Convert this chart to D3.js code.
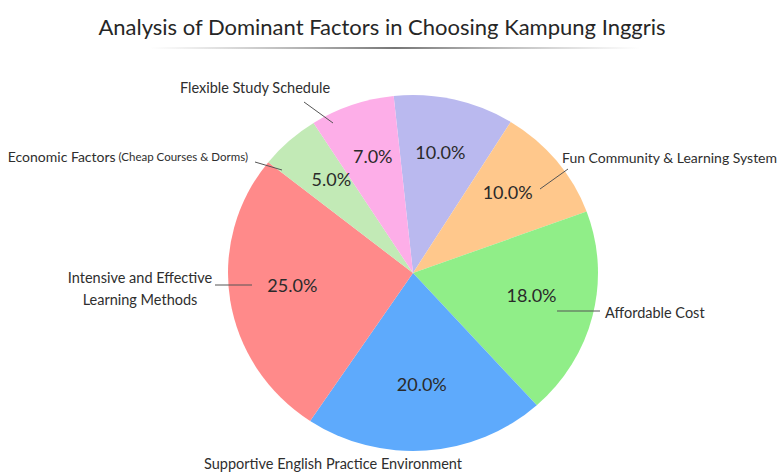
<!DOCTYPE html>
<html><head><meta charset="utf-8">
<script src="https://cdn.jsdelivr.net/npm/d3@7"></script>
<style>body{margin:0;background:#fff} svg{display:block}</style>
</head><body><svg id="chart" width="783" height="475"></svg>
<script>
// ---- data ----
const title = "Analysis of Dominant Factors in Choosing Kampung Inggris";
const categories = ["", "Fun Community & Learning System", "Affordable Cost",
  "Supportive English Practice Environment", "Intensive and Effective Learning Methods",
  "Economic Factors", "Flexible Study Schedule"];
const values = [10, 10, 18, 20, 25, 5, 7];
const colors = ["#bab9ef", "#ffc88c", "#90ee88", "#5eaafc", "#ff8a8a", "#c2eab6", "#fdaee8"];

// ---- layout (positions relative to pie centre, px) ----
const cx = 413, cy = 273, R = 185, yScale = 0.962;
const labelLayout = [
  null,
  {lines:["Fun Community & Learning System"], size:14, x:149, y:-114, anchor:"start", leader:[[155,-104],[127,-84]]},
  {lines:["Affordable Cost"], size:14.5, x:192, y:41, anchor:"start", leader:[[144,38],[187,38]]},
  {lines:["Supportive English Practice Environment"], size:14.5, x:-80, y:192, anchor:"middle", leader:null},
  {lines:["Intensive and Effective","Learning Methods"], size:14.5, x:-273, y:6, anchor:"middle", leader:[[-198,12],[-161,12]]},
  {lines:["Economic Factors"], size:14, sub:" (Cheap Courses & Dorms)", x:-165, y:-115, anchor:"end", leader:[[-158,-111],[-131,-103]]},
  {lines:["Flexible Study Schedule"], size:14.5, x:-158, y:-184, anchor:"middle", leader:[[-109,-171],[-80,-150]]}
];

const svg = d3.select("#chart");
const font = "Lato, 'Open Sans', sans-serif";

// title
const defs = svg.append("defs");
const grad = defs.append("linearGradient").attr("id","ul");
grad.append("stop").attr("offset","0%").attr("stop-color","#999").attr("stop-opacity",0);
grad.append("stop").attr("offset","50%").attr("stop-color","#777").attr("stop-opacity",1);
grad.append("stop").attr("offset","100%").attr("stop-color","#999").attr("stop-opacity",0);

svg.append("text").attr("x", 382).attr("y", 35).attr("text-anchor","middle")
  .style("font-family", font).style("font-size","22px").style("fill","#262626")
  .text(title);
svg.append("rect").attr("x",150).attr("y",47).attr("width",490).attr("height",2).attr("fill","url(#ul)");

// pie
const pie = d3.pie().sort(null).value(d => d)
  .startAngle(-6 * Math.PI/180).endAngle(354 * Math.PI/180);
const arcs = pie(values);
const arc = d3.arc().innerRadius(0).outerRadius(R);

const g = svg.append("g").attr("transform", `translate(${cx},${cy}) scale(1,${yScale})`);
g.selectAll("path").data(arcs).join("path")
  .attr("d", arc).attr("fill", (d,i) => colors[i]);

// percent labels
const pctArc = d3.arc().innerRadius(R*0.66).outerRadius(R*0.66);
svg.append("g").attr("transform", `translate(${cx},${cy})`)
  .selectAll("text").data(arcs).join("text")
  .attr("x", d => pctArc.centroid(d)[0])
  .attr("y", d => pctArc.centroid(d)[1]*yScale - 4)
  .attr("text-anchor","middle").attr("dominant-baseline","middle")
  .style("font-family", font).style("font-size","18px").style("fill","#2a2a2a")
  .text(d => d.value.toFixed(1) + "%");

// outside labels
const lg = svg.append("g").attr("transform", `translate(${cx},${cy})`);
labelLayout.forEach((L, i) => {
  if (!L) return;
  if (L.leader) {
    lg.append("line").attr("x1",L.leader[0][0]).attr("y1",L.leader[0][1])
      .attr("x2",L.leader[1][0]).attr("y2",L.leader[1][1])
      .attr("stroke","#555").attr("stroke-width",1);
  }
  const t = lg.append("text").attr("x",L.x).attr("y",L.y).attr("text-anchor",L.anchor)
    .attr("dominant-baseline","middle")
    .style("font-family", font).style("font-size", L.size + "px").style("fill","#2e2e2e");
  L.lines.forEach((ln, k) => {
    t.append("tspan").attr("x", L.x).attr("dy", k === 0 ? 0 : 22).text(ln);
  });
  if (L.sub) t.append("tspan").style("font-size","11.5px").text(L.sub);
});
</script></body></html>
